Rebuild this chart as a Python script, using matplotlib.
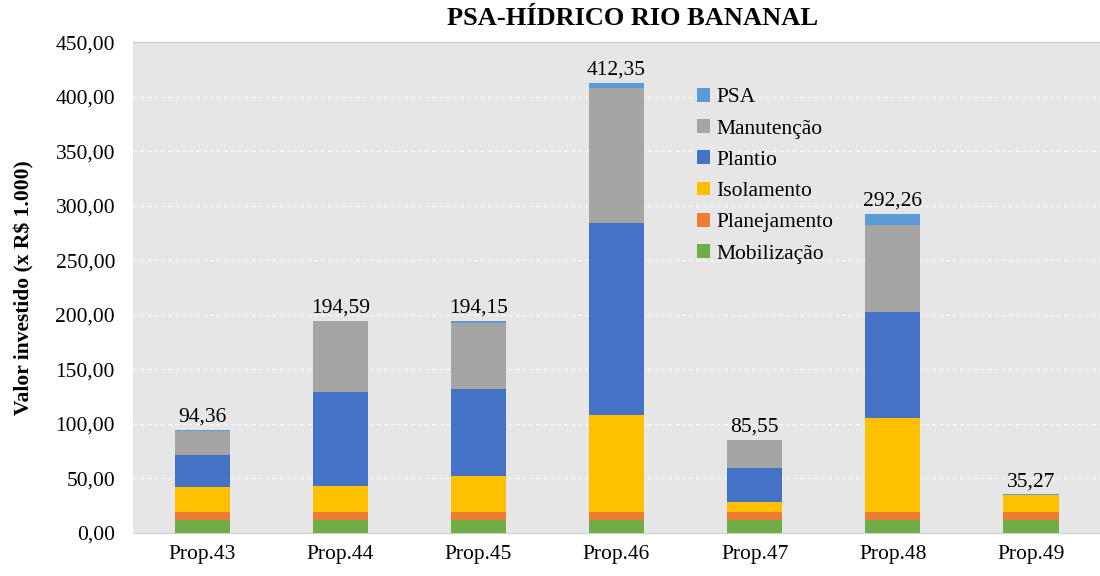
import matplotlib.pyplot as plt
import numpy as np

plt.rcParams["font.family"] = ["Liberation Serif", "DejaVu Serif"]

props = ["Prop.43", "Prop.44", "Prop.45", "Prop.46", "Prop.47", "Prop.48", "Prop.49"]
mobilizacao = [11.5, 11.5, 11.5, 11.5, 11.5, 11.5, 11.5]
planejamento = [7.5, 7.5, 7.5, 7.5, 7.5, 7.5, 7.5]
isolamento = [22.6, 24.2, 33.3, 89.3, 9.5, 86.6, 15.8]
plantio = [30.0, 86.3, 79.9, 175.4, 31.2, 96.7, 0.0]
manutencao = [21.4, 64.9, 59.8, 124.4, 25.3, 79.6, 0.0]
psa = [1.36, 0.19, 2.15, 4.25, 0.55, 10.36, 0.47]
totals = [94.36, 194.59, 194.15, 412.35, 85.55, 292.26, 35.27]

series = [
    ("Mobilização", mobilizacao, "#70AD47"),
    ("Planejamento", planejamento, "#ED7D31"),
    ("Isolamento", isolamento, "#FFC000"),
    ("Plantio", plantio, "#4472C4"),
    ("Manutenção", manutencao, "#A5A5A5"),
    ("PSA", psa, "#5B9BD5"),
]

fig = plt.figure(figsize=(11, 5.76), dpi=100, facecolor="white")
ax = fig.add_axes([0.121, 0.075, 0.879, 0.852])
ax.set_facecolor("#E6E6E6")

x = np.arange(len(props))
bottom = np.zeros(len(props))
for name, vals, color in series:
    ax.bar(x, vals, 0.4, bottom=bottom, color=color, label=name, zorder=3)
    bottom += np.array(vals)

for xi, tot in zip(x, totals):
    ax.text(xi, tot + 3, f"{tot:.2f}".replace(".", ","), ha="center", va="bottom",
            fontsize=15.5, zorder=4)

ax.set_xlim(-0.5, len(props) - 0.5)
ax.set_ylim(0, 450)
ax.set_yticks(np.arange(0, 451, 50))
ax.set_yticklabels([f"{v:.2f}".replace(".", ",") for v in np.arange(0, 451, 50)])
ax.set_xticks(x)
ax.set_xticklabels(props)
ax.tick_params(axis="both", length=0, labelsize=15.5)
ax.tick_params(axis="y", pad=13)
ax.tick_params(axis="x", pad=9)
ax.yaxis.grid(True, color="#F7F7F7", linestyle=(0, (3, 2)), linewidth=1, zorder=1)
for side in ["left", "right"]:
    ax.spines[side].set_visible(False)
ax.spines["top"].set_color("#C8C8C8")
ax.spines["bottom"].set_color("#D0D0D0")

fig.text(0.575, 0.968, "PSA-HÍDRICO RIO BANANAL", fontsize=19, fontweight="bold",
         ha="center", va="center")
ax.set_ylabel("Valor investido (x R$ 1.000)", fontsize=15.5, fontweight="bold", labelpad=15)

handles, labels = ax.get_legend_handles_labels()
ax.legend(handles[::-1], labels[::-1], loc="upper left", bbox_to_anchor=(0.574, 0.924),
          frameon=False, fontsize=15.5, handlelength=0.6, handleheight=0.6,
          handletextpad=0.3, labelspacing=0.55, borderaxespad=0)

fig.savefig("out.png", dpi=100)
